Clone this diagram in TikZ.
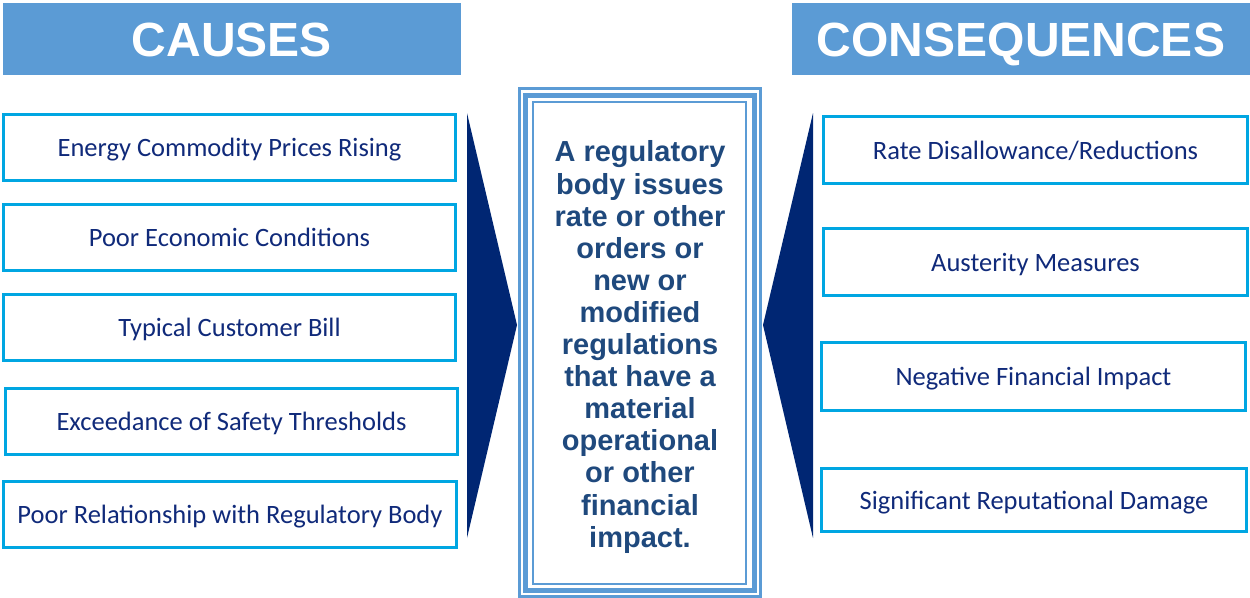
\documentclass[tikz,border=0pt]{standalone}
\usepackage{fontspec}
\setmainfont{Carlito}
\newfontfamily\headfont{Liberation Sans}
\usetikzlibrary{positioning}

\definecolor{headblue}{RGB}{91,155,213}
\definecolor{boxline}{RGB}{0,166,226}
\definecolor{navy}{RGB}{0,38,115}
\definecolor{boxtext}{RGB}{16,42,122}
\definecolor{midtext}{RGB}{31,73,125}

\tikzset{
  header/.style={fill=headblue, text=white, inner sep=0pt,
    minimum width=458pt, minimum height=72pt, text height=35pt, text depth=0pt,
    font=\headfont\bfseries\fontsize{48}{56}\selectfont},
  itembox/.style={draw=boxline, line width=3pt, fill=white, text=boxtext,
    inner sep=0pt, minimum width=452pt, minimum height=66pt,
    text height=18pt, text depth=0pt,
    font=\fontsize{26.5}{30}\selectfont},
  conbox/.style={itembox, minimum width=424pt, minimum height=67pt},
  frameline/.style={draw=headblue},
  wedge/.style={fill=navy}
}

\begin{document}
\begin{tikzpicture}[x=1pt,y=-1pt]
\useasboundingbox (0,0) rectangle (1250,597);

% headers
\node[header] (causes) at (232,39) {CAUSES};
\node[header] (conseq) at (1021,39) {CONSEQUENCES};

% causes
\node[itembox] (c1) at (229.5,147.5) {Energy Commodity Prices Rising};
\node[itembox] (c2) at (229.5,237.5) {Poor Economic Conditions};
\node[itembox] (c3) at (229.5,327.5) {Typical Customer Bill};
\node[itembox] (c4) at (231.5,421.5) {Exceedance of Safety Thresholds};
\node[itembox, minimum width=453pt] (c5) at (230,514.5) {Poor Relationship with Regulatory Body};

% consequences
\node[conbox] (q1) at (1035.5,150) {Rate Disallowance/Reductions};
\node[conbox] (q2) at (1035.5,262) {Austerity Measures};
\node[conbox, minimum height=68pt] (q3) at (1033.5,376.5) {Negative Financial Impact};
\node[conbox, minimum width=425pt, minimum height=63pt] (q4) at (1034,500) {Significant Reputational Damage};

% wedges
\fill[wedge] (467,113) -- (517,325) -- (467,538) -- cycle;
\fill[wedge] (813,113) -- (763,325) -- (813,538) -- cycle;

% event in the middle, triple frame
\draw[frameline, line width=3pt] (519.5,88.5) rectangle (760.5,596);
\draw[frameline, line width=5pt] (525.5,95) rectangle (754.5,590.5);
\draw[frameline, line width=2pt] (533,102) rectangle (746,584);
\node[align=center, text=midtext, inner sep=0pt,
  font=\headfont\bfseries\fontsize{29}{32.1}\selectfont] (impact) at (640,347)
  {A regulatory\\body issues\\rate or other\\orders or\\new or\\modified\\regulations\\that have a\\material\\operational\\or other\\financial\\impact.};
\end{tikzpicture}
\end{document}
